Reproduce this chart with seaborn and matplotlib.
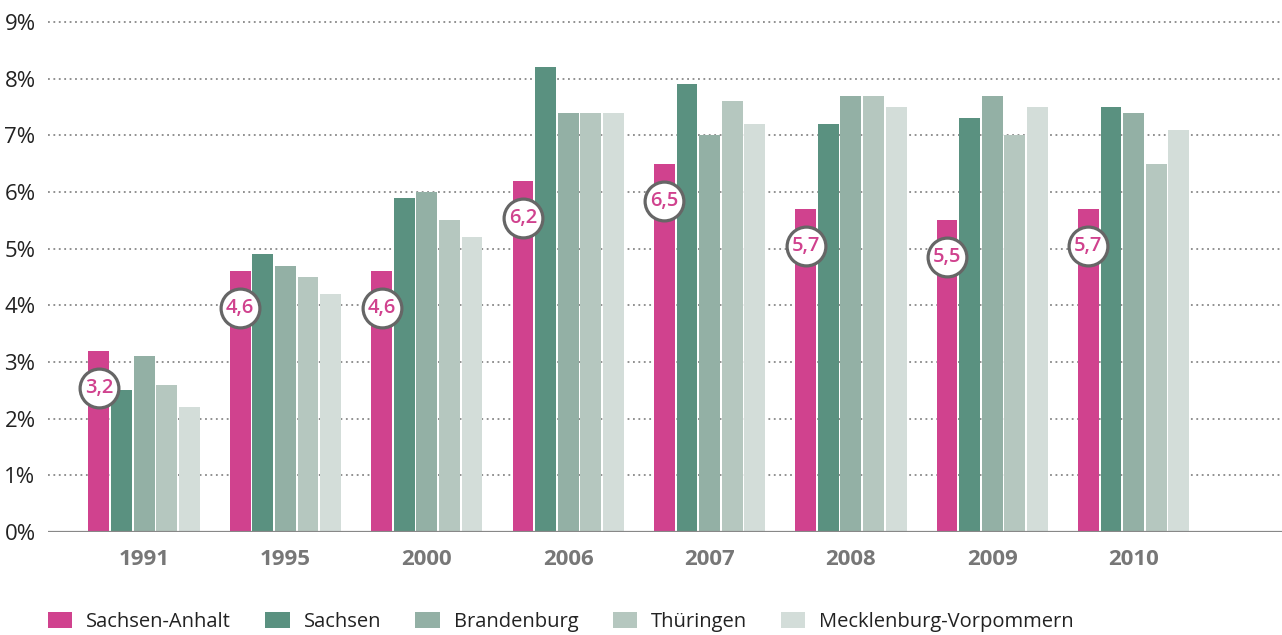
import matplotlib
matplotlib.use("Agg")
import matplotlib.pyplot as plt
import matplotlib.transforms as mtransforms
from matplotlib.patches import Patch
import seaborn as sns
import pandas as pd

years = ["1991", "1995", "2000", "2006", "2007", "2008", "2009", "2010"]
states = ["Sachsen-Anhalt", "Sachsen", "Brandenburg", "Thüringen", "Mecklenburg-Vorpommern"]
sachsen_anhalt = [3.2, 4.6, 4.6, 6.2, 6.5, 5.7, 5.5, 5.7]
sachsen = [2.5, 4.9, 5.9, 8.2, 7.9, 7.2, 7.3, 7.5]
brandenburg = [3.1, 4.7, 6.0, 7.4, 7.0, 7.7, 7.7, 7.4]
thueringen = [2.6, 4.5, 5.5, 7.4, 7.6, 7.7, 7.0, 6.5]
mecklenburg_vorpommern = [2.2, 4.2, 5.2, 7.4, 7.2, 7.5, 7.5, 7.1]
y_ticks = [0, 1, 2, 3, 4, 5, 6, 7, 8, 9]

colors = ["#d0428e", "#5a9180", "#93b0a5", "#b5c7bf", "#d3ddd9"]

series = [sachsen_anhalt, sachsen, brandenburg, thueringen, mecklenburg_vorpommern]
df = pd.DataFrame(
    [(y, s, v) for s, vals in zip(states, series) for y, v in zip(years, vals)],
    columns=["Jahr", "Land", "Wert"],
)

sns.set_theme(style="white")
plt.rcParams["font.family"] = ["Open Sans", "DejaVu Sans"]

fig = plt.figure(figsize=(12.82, 6.35), dpi=100)
ax = fig.add_axes([48 / 1282, 1 - 532 / 635, 1 - 48 / 1282, (532 - 22) / 635])

sns.barplot(
    data=df, x="Jahr", y="Wert", hue="Land", order=years, hue_order=states,
    palette=colors, width=0.8, gap=0.08, saturation=1, ax=ax, legend=False,
    linewidth=0, zorder=2,
)

ax.set_ylim(0, 9)
ax.set_xlim(-0.68, 8.05)
ax.set_yticks(y_ticks)
ax.set_yticklabels([f"{t}%" for t in y_ticks], fontsize=16, color="#222222")
ax.tick_params(axis="y", length=0, pad=9)
ax.tick_params(axis="x", length=0, pad=12)
for lbl in ax.get_xticklabels():
    lbl.set_fontweight("bold")
    lbl.set_fontsize(16)
    lbl.set_color("#777777")
ax.set_xlabel("")
ax.set_ylabel("")
for sp in ax.spines.values():
    sp.set_visible(False)

# dotted horizontal grid and solid baseline
for t in y_ticks[1:]:
    ax.axhline(t, color="#888888", lw=1.3, ls=(0, (1, 2)), zorder=1, clip_on=False)
ax.axhline(0, color="#888888", lw=1.6, zorder=3)

# circled value badges on the Sachsen-Anhalt bars
offset = mtransforms.offset_copy(ax.transData, fig=fig, x=0, y=-37, units="dots")
for bar in ax.containers[0]:
    cx = bar.get_x() + bar.get_width() / 2
    val = bar.get_height()
    ax.scatter([cx], [val], s=780, marker="o", facecolor="white",
               edgecolor="#666666", linewidth=2.3, transform=offset, zorder=5,
               clip_on=False)
    ax.text(cx, val, f"{val:.1f}".replace(".", ","), transform=offset,
            ha="center", va="center", fontsize=14.5, fontweight="semibold",
            color="#d0428e", zorder=6)

handles = [Patch(facecolor=c, edgecolor="none", label=s) for c, s in zip(colors, states)]
fig.legend(
    handles=handles, loc="center left", bbox_to_anchor=(48 / 1282, 1 - 622 / 635),
    ncol=5, frameon=False, fontsize=14.5, handlelength=1.2, handleheight=0.85,
    handletextpad=0.7, columnspacing=1.7, borderpad=0, borderaxespad=0,
    labelcolor="#222222",
)

fig.savefig("out.png", dpi=100)
